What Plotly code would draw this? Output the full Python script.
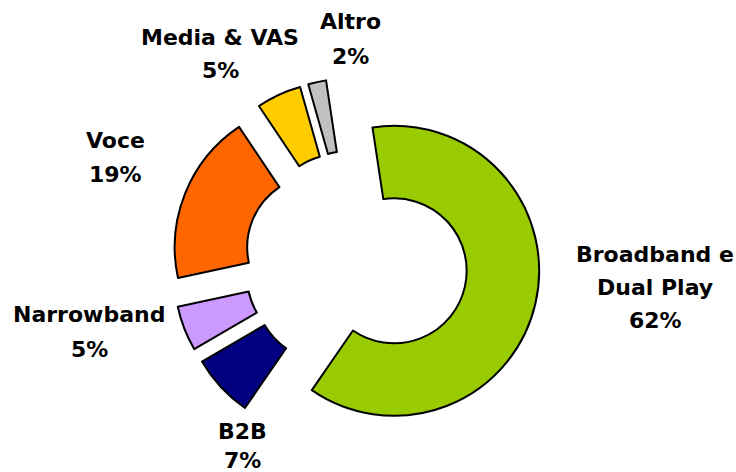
import plotly.graph_objects as go

# Data
labels = ["Broadband e Dual Play", "B2B", "Narrowband", "Voce", "Media & VAS", "Altro"]
label_lines = [["Broadband e", "Dual Play"], ["B2B"], ["Narrowband"], ["Voce"], ["Media & VAS"], ["Altro"]]
values = [62, 7, 5, 19, 5, 2]
colors = ["#99CC00", "#000080", "#CC99FF", "#FF6600", "#FFCC00", "#C0C0C0"]

W, H = 736, 472

# pie geometry (pixels)
cx, cy, R, pull = 356, 262, 145, 0.27
half = R * (1 + pull)

fig = go.Figure(go.Pie(
    labels=labels,
    values=values,
    sort=False,
    direction="clockwise",
    rotation=-8.6,
    hole=0.5,
    pull=[pull] * len(values),
    marker=dict(colors=colors, line=dict(color="black", width=2)),
    textinfo="none",
    hoverinfo="label+percent",
    showlegend=False,
    domain=dict(x=[(cx - half) / W, (cx + half) / W],
                y=[1 - (cy + half) / H, 1 - (cy - half) / H]),
))

# label anchor positions (center x, middle y of first line, line gap) in pixels
label_pos = [(655, 254, 33), (242, 431, 29), (89, 314, 35), (115, 140, 34), (220, 37, 34), (350, 22, 34)]

annotations = []
for lines, v, (px, py, gap) in zip(label_lines, values, label_pos):
    all_lines = lines + [f"{v}%"]
    for i, t in enumerate(all_lines):
        y = py + i * gap
        annotations.append(dict(
            text=t, x=px / W, y=1 - y / H, xref="paper", yref="paper",
            xanchor="center", yanchor="middle", showarrow=False,
            font=dict(family="DejaVu Sans", size=22, color="black", weight="bold"),
        ))

fig.update_layout(
    width=W, height=H,
    margin=dict(l=0, r=0, t=0, b=0),
    paper_bgcolor="white", plot_bgcolor="white",
    annotations=annotations,
)

fig.write_html("out.html", config={"displayModeBar": False},
               post_script="document.body.style.margin='0';document.body.style.overflow='hidden';")
